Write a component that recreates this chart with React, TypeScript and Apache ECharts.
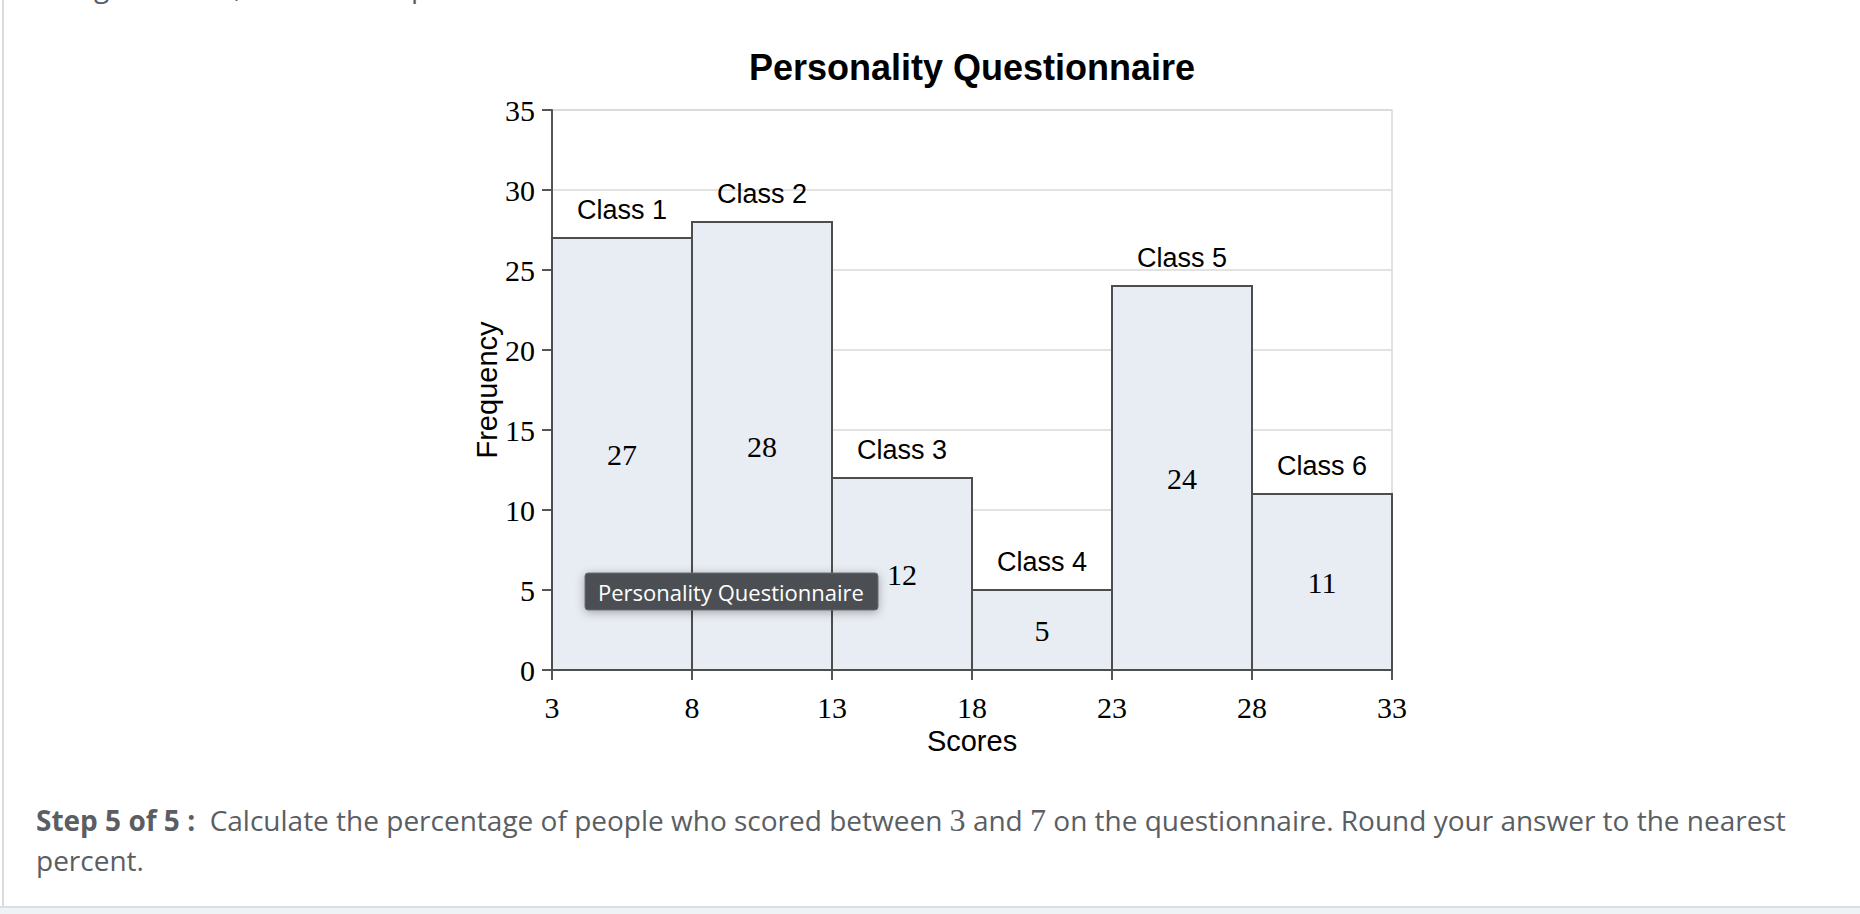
import React, { useEffect, useRef } from "react";
import * as echarts from "echarts";

const chartTitle = "Personality Questionnaire";
const binStarts = [3, 8, 13, 18, 23, 28];
const binEnds = [8, 13, 18, 23, 28, 33];
const frequencies = [27, 28, 12, 5, 24, 11];
const classLabels = ["Class 1", "Class 2", "Class 3", "Class 4", "Class 5", "Class 6"];
const xTicks = [3, 8, 13, 18, 23, 28, 33];
const xAxisName = "Scores";
const yAxisName = "Frequency";
const tooltipText = "Personality Questionnaire";
const topText = "Using the chart, answer the questions.";
const stepLabel = "Step 5 of 5 :";
const questionLine1a = "Calculate the percentage of people who scored between ";
const questionLine1b = " and ";
const questionLine1c = " on the questionnaire. Round your answer to the nearest";
const questionLine2 = "percent.";
const lowScore = "3";
const highScore = "7";

const SANS = "'Liberation Sans', Arial, Helvetica, sans-serif";
const SERIF = "'Liberation Serif', 'Times New Roman', serif";
const PAGE = "'Open Sans', 'Noto Sans', sans-serif";

export default function App() {
  const ref = useRef<HTMLDivElement>(null);
  useEffect(() => {
    if (!ref.current) return;
    const chart = echarts.init(ref.current, undefined, { renderer: "svg" });
    const data = binStarts.map((s, i) => [s, binEnds[i], frequencies[i]]);
    chart.setOption({
      animation: false,
      backgroundColor: "#ffffff",
      title: {
        text: chartTitle,
        left: 972,
        top: 49,
        padding: 0,
        textAlign: "center",
        textStyle: { fontFamily: SANS, fontWeight: "bold", fontSize: 36, color: "#000" },
      },
      grid: {
        left: 552,
        top: 110,
        width: 840,
        height: 560,
        containLabel: false,
        outerBoundsMode: "none",
        show: true,
        borderColor: "#d9d9d9",
        borderWidth: 1.5,
        backgroundColor: "transparent",
      },
      xAxis: {
        type: "value",
        min: 3,
        max: 33,
        name: xAxisName,
        nameLocation: "middle",
        nameGap: 55,
        nameTextStyle: { fontFamily: SANS, fontSize: 29, color: "#000" },
        axisLine: { show: true, onZero: false, lineStyle: { color: "#555", width: 2 } },
        axisTick: { show: true, length: 10, customValues: xTicks, lineStyle: { color: "#555", width: 2 } },
        axisLabel: {
          customValues: xTicks,
          margin: 22,
          fontFamily: SERIF,
          fontSize: 30,
          color: "#000",
          showMinLabel: true,
          showMaxLabel: true,
        },
        splitLine: { show: false },
      },
      yAxis: {
        type: "value",
        min: 0,
        max: 35,
        interval: 5,
        name: yAxisName,
        nameLocation: "middle",
        nameGap: 50,
        nameTextStyle: { fontFamily: SANS, fontSize: 29, color: "#000" },
        axisLine: { show: true, lineStyle: { color: "#555", width: 2 } },
        axisTick: { show: true, length: 10, lineStyle: { color: "#555", width: 2 } },
        axisLabel: { margin: 17, fontFamily: SERIF, fontSize: 30, color: "#000" },
        splitLine: { show: true, lineStyle: { color: "#d9d9d9", width: 1.5 } },
      },
      series: [
        {
          type: "custom",
          data,
          encode: { x: [0, 1], y: 2 },
          renderItem: (params: any, api: any) => {
            const s = api.value(0);
            const e = api.value(1);
            const v = api.value(2);
            const p0 = api.coord([s, 0]);
            const p1 = api.coord([e, v]);
            const x = p0[0];
            const w = p1[0] - p0[0];
            const y = p1[1];
            const h = p0[1] - p1[1];
            return {
              type: "group",
              children: [
                {
                  type: "rect",
                  shape: { x, y, width: w, height: h },
                  style: { fill: "#e8ecf3", stroke: "#4d4d4d", lineWidth: 2 },
                },
                {
                  type: "text",
                  x: x + w / 2,
                  y: y + h / 2,
                  style: {
                    text: String(v),
                    fontFamily: SERIF,
                    fontSize: 30,
                    fill: "#000",
                    align: "center",
                    verticalAlign: "middle",
                  },
                },
                {
                  type: "text",
                  x: x + w / 2,
                  y: y - 15,
                  style: {
                    text: classLabels[params.dataIndex],
                    fontFamily: SANS,
                    fontSize: 27,
                    fill: "#000",
                    align: "center",
                    verticalAlign: "bottom",
                  },
                },
              ],
            };
          },
        },
      ],
      graphic: [
        {
          type: "line",
          shape: { x1: 3, y1: 0, x2: 3, y2: 907 },
          style: { stroke: "#dcdcdc", lineWidth: 2 },
          silent: true,
        },
        {
          type: "rect",
          shape: { x: 0, y: 907, width: 1860, height: 7 },
          style: { fill: "#f0f3f6" },
          silent: true,
        },
        {
          type: "line",
          shape: { x1: 0, y1: 907, x2: 1860, y2: 907 },
          style: { stroke: "#dedede", lineWidth: 2 },
          silent: true,
        },
        {
          type: "text",
          x: 36,
          y: -14,
          style: {
            text: topText,
            fontFamily: PAGE,
            fontSize: 28,
            fill: "#5a5e63",
            verticalAlign: "middle",
          },
        },
        {
          type: "rect",
          shape: { x: 585, y: 573, width: 293, height: 37, r: 3 },
          style: {
            fill: "#4b4f53",
            stroke: "#6a6d71",
            lineWidth: 1,
            shadowBlur: 10,
            shadowColor: "rgba(0,0,0,0.3)",
            shadowOffsetY: 2,
          },
          z: 100,
        },
        {
          type: "text",
          x: 598,
          y: 592,
          z: 101,
          style: {
            text: tooltipText,
            fontFamily: PAGE,
            fontSize: 22,
            fill: "#ffffff",
            verticalAlign: "middle",
          },
        },
        {
          type: "text",
          x: 36,
          y: 820,
          style: {
            text:
              "{b|" + stepLabel + "}  " + questionLine1a + "{m|" + lowScore + "}" + questionLine1b +
              "{m|" + highScore + "}" + questionLine1c,
            fontFamily: PAGE,
            fontSize: 28,
            fill: "#5a5e63",
            verticalAlign: "middle",
            rich: {
              b: { fontFamily: PAGE, fontSize: 28, fontWeight: "bold", fill: "#5a5e63" },
              m: { fontFamily: SERIF, fontSize: 32, fill: "#5a5e63" },
            },
          },
        },
        {
          type: "text",
          x: 36,
          y: 860,
          style: {
            text: questionLine2,
            fontFamily: PAGE,
            fontSize: 28,
            fill: "#5a5e63",
            verticalAlign: "middle",
          },
        },
      ],
    });
    return () => chart.dispose();
  }, []);
  return (
    <div
      ref={ref}
      style={{ position: "absolute", left: 0, top: 0, width: 1860, height: 914 }}
    />
  );
}
